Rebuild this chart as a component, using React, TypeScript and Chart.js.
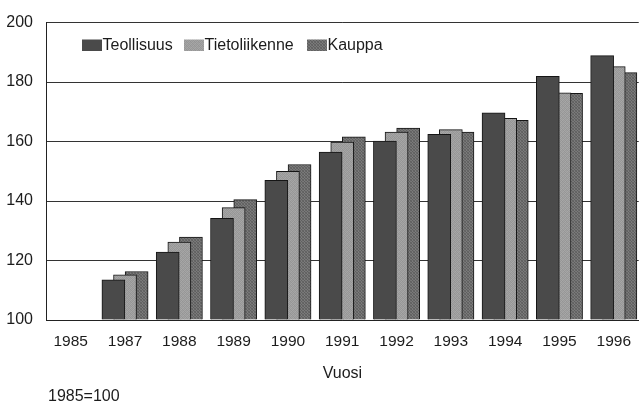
import React, { useEffect, useRef } from "react";
import { Chart, registerables } from "chart.js";

Chart.register(...registerables);

const years = ["1985", "1987", "1988", "1989", "1990", "1991", "1992", "1993", "1994", "1995", "1996"];
const seriesNames = ["Teollisuus", "Tietoliikenne", "Kauppa"];
const teollisuus = [100, 113.5, 122.8, 134.2, 147.0, 156.5, 160.2, 162.4, 169.7, 181.9, 188.9];
const tietoliikenne = [100, 115.2, 126.2, 137.8, 150.0, 159.8, 163.2, 164.0, 167.8, 176.4, 185.2];
const kauppa = [100, 116.3, 127.9, 140.5, 152.3, 161.6, 164.5, 163.2, 167.1, 176.2, 183.2];
const yTicks = [100, 120, 140, 160, 180, 200];
const xTitle = "Vuosi";
const footnote = "1985=100";

const FONT = "'Liberation Sans', Arial, sans-serif";
const TEXT = "#1c1c1c";

function makePattern(cells: string[][]): CanvasPattern | string {
  const c = document.createElement("canvas");
  c.width = cells[0].length;
  c.height = cells.length;
  const g = c.getContext("2d");
  if (!g) return cells[0][0];
  cells.forEach((row, y) => row.forEach((col, x) => { g.fillStyle = col; g.fillRect(x, y, 1, 1); }));
  return g.createPattern(c, "repeat") || cells[0][0];
}

export default function App() {
  const ref = useRef<HTMLCanvasElement>(null);
  useEffect(() => {
    if (!ref.current) return;
    const lightPat = makePattern([
      ["#a2a2a2", "#969696", "#a6a6a6", "#9a9a9a"],
      ["#989898", "#a8a8a8", "#949494", "#a4a4a4"],
      ["#a6a6a6", "#9a9a9a", "#a0a0a0", "#969696"],
      ["#969696", "#a4a4a4", "#9c9c9c", "#a8a8a8"],
    ]);
    const dotPat = makePattern([
      ["#606060", "#7c7c7c", "#686868"],
      ["#7a7a7a", "#5e5e5e", "#767676"],
      ["#666666", "#787878", "#626262"],
    ]);
    const fills = ["#4a4a4a", lightPat, dotPat];
    const offsets = [-0.214, 0, 0.214];
    const values = [teollisuus, tietoliikenne, kauppa];

    const overlay = {
      id: "overlay",
      afterDraw(chart: any) {
        const ctx = chart.ctx;
        ctx.save();
        const boxX = [82, 184, 307];
        ctx.font = `16px ${FONT}`;
        ctx.textBaseline = "middle";
        ctx.textAlign = "left";
        seriesNames.forEach((name, i) => {
          ctx.fillStyle = fills[i];
          ctx.fillRect(boxX[i], 39.5, 20, 11.5);
          ctx.fillStyle = TEXT;
          ctx.fillText(name, boxX[i] + 20.5, 45.5);
        });
        ctx.fillText(footnote, 48, 397);
        ctx.restore();
      },
    };

    const chart = new Chart(ref.current, {
      type: "bar",
      data: {
        datasets: seriesNames.map((name, s) => ({
          label: name,
          data: values[s].map((v, i) => ({ x: i + offsets[s], y: v })),
          backgroundColor: fills[s] as any,
          borderColor: "#151515",
          borderWidth: 1,
          barThickness: 23,
          grouped: false,
          base: 100,
        })),
      },
      options: {
        responsive: false,
        animation: false,
        devicePixelRatio: 1,
        layout: { padding: { top: 15, right: 0, bottom: 0, left: 0 } },
        plugins: { legend: { display: false }, tooltip: { enabled: false } },
        scales: {
          x: {
            type: "linear",
            offset: false,
            min: -0.455,
            max: 10.46,
            grid: { display: false, drawTicks: false, offset: false },
            border: { display: true, color: "#222", width: 1 },
            afterFit(scale: any) { scale.height = 86; },
            afterBuildTicks(scale: any) { scale.ticks = years.map((_, i) => ({ value: i })); },
            ticks: {
              autoSkip: false,
              maxRotation: 0,
              padding: 12,
              color: TEXT,
              font: { family: FONT, size: 15.5 },
              callback: (v: any) => years[Math.round(Number(v))] ?? "",
            },
            title: {
              display: true,
              text: xTitle,
              color: TEXT,
              font: { family: FONT, size: 16 },
              padding: { top: 0, bottom: 23 },
            },
          },
          y: {
            min: 100,
            max: 200,
            afterFit(scale: any) { scale.width = 46; },
            afterBuildTicks(scale: any) { scale.ticks = yTicks.map((v) => ({ value: v })); },
            grid: { color: "#333333", lineWidth: 1, drawTicks: false },
            border: { display: true, color: "#222", width: 1 },
            ticks: {
              padding: 13,
              color: TEXT,
              font: { family: FONT, size: 16 },
            },
          },
        },
      },
      plugins: [overlay],
    });
    return () => chart.destroy();
  }, []);
  return (
    <div style={{ position: "fixed", left: 0, top: 0, width: 643, height: 406, background: "#fff" }}>
      <canvas ref={ref} width={643} height={406} style={{ display: "block" }} />
    </div>
  );
}
